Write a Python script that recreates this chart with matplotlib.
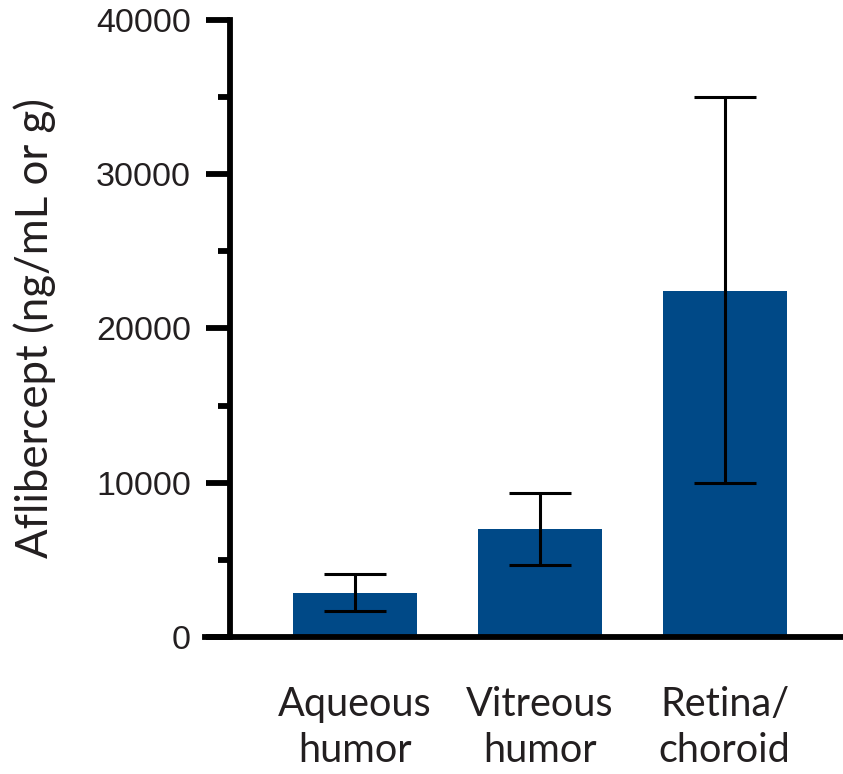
import matplotlib
matplotlib.use("Agg")
import matplotlib.pyplot as plt
from matplotlib.ticker import MultipleLocator
import numpy as np

# data
tissues = ["Aqueous\nhumor", "Vitreous\nhumor", "Retina/\nchoroid"]
means = [2850, 7000, 22400]
err_low = [1700, 4650, 10000]
err_high = [4100, 9350, 35000]

bar_color = "#004987"
text_color = "#231f20"

fig = plt.figure(figsize=(8.43, 7.74), dpi=100)
ax = fig.add_axes([0.2432, 0.177, 0.7568, 0.7972])

x = np.arange(len(tissues))
lower = np.array(means) - np.array(err_low)
upper = np.array(err_high) - np.array(means)

ax.bar(x, means, width=0.671, color=bar_color, zorder=2)
ax.errorbar(x, means, yerr=[lower, upper], fmt="none", ecolor="black",
            elinewidth=2.2, capsize=22.3, capthick=2.2, zorder=3)

ax.set_xlim(-0.812, 2.641)
ax.set_ylim(0, 40000)

for side in ["top", "right"]:
    ax.spines[side].set_visible(False)
ax.spines["left"].set_position(("data", -0.677))
ax.spines["left"].set_linewidth(4.2)
ax.spines["bottom"].set_linewidth(4.2)

ax.yaxis.set_major_locator(MultipleLocator(10000))
ax.yaxis.set_minor_locator(MultipleLocator(5000))
ax.tick_params(axis="y", which="major", length=17, width=4.2, pad=11,
               labelsize=24.5, labelcolor=text_color)
ax.tick_params(axis="y", which="minor", length=9, width=4.2)
for lab in ax.get_yticklabels():
    lab.set_family("Liberation Sans")

ax.set_xticks(x)
ax.set_xticklabels(tissues, family="Lato", fontsize=28.5, color=text_color,
                   linespacing=1.32)
ax.tick_params(axis="x", length=0, pad=35)

ax.set_ylabel("Aflibercept (ng/mL or g)", family="Lato", fontsize=31.5,
              color=text_color)
ax.yaxis.set_label_coords(-0.234, 0.5)

fig.savefig("out.png", dpi=100)
